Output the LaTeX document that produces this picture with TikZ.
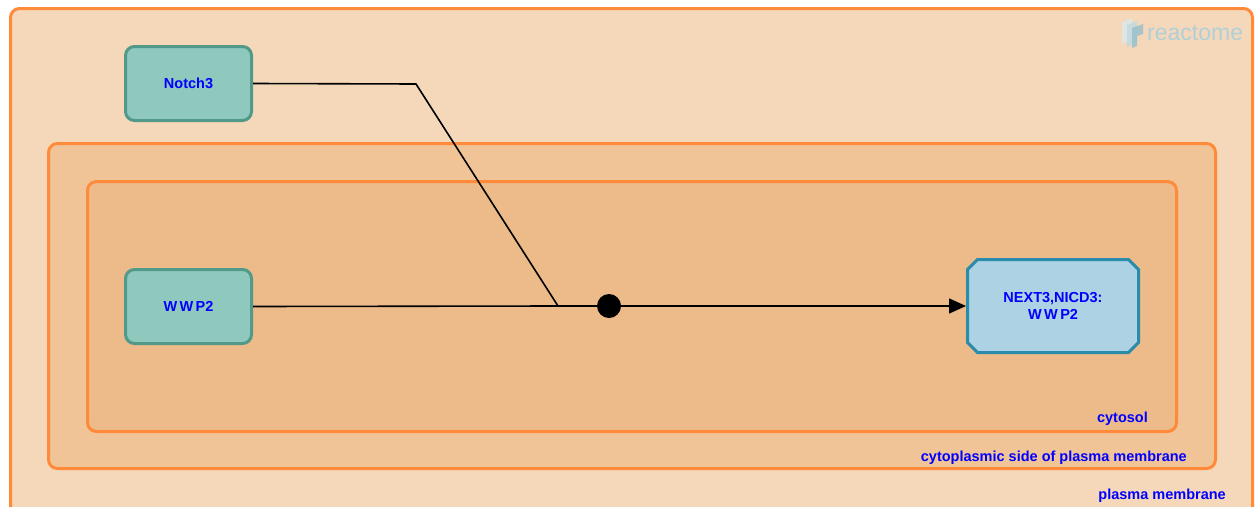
\documentclass[tikz,border=0pt]{standalone}
\usepackage{fontspec}
\setmainfont{Liberation Sans}
\usetikzlibrary{arrows.meta,shapes.misc}
\definecolor{pmfill}{RGB}{245,215,185}		% compartment colours
\definecolor{cspfill}{RGB}{240,196,150}
\definecolor{cytfill}{RGB}{237,187,138}
\definecolor{compline}{RGB}{255,138,58}
\definecolor{protfill}{RGB}{143,200,189}	% entity colours
\definecolor{protline}{RGB}{81,154,138}
\definecolor{cplxfill}{RGB}{173,210,228}
\definecolor{cplxline}{RGB}{42,139,170}
\definecolor{labelblue}{RGB}{0,0,255}
\definecolor{logoblue}{RGB}{150,192,204}
\tikzset{
	compartment/.style={		% nested compartments
		draw=compline,
		line width=3pt,
		rounded corners=9pt
	},
	complabel/.style={
		text=labelblue,
		anchor=base east,
		inner sep=0pt,
		font=\fontsize{14.5}{16}\selectfont\bfseries
	},
	protein/.style={			% single entities
		draw=protline, fill=protfill,
		line width=3pt,
		rounded corners=9pt,
		minimum width=126pt, minimum height=74pt,
		text=labelblue,
		font=\fontsize{14.5}{17}\selectfont\bfseries
	},
	complex/.style={
		chamfered rectangle,
		chamfered rectangle xsep=5pt, chamfered rectangle ysep=5pt,
		draw=cplxline, fill=cplxfill,
		line width=3pt,
		minimum width=171pt, minimum height=93pt,
		align=center,
		text=labelblue,
		font=\fontsize{14.5}{17}\selectfont\bfseries
	},
	reaction/.style={line width=1.6pt}
}
\begin{document}
\begin{tikzpicture}[x=1pt,y=-1pt]
	\useasboundingbox (0,0) rectangle (1257,506);
	\fill[white] (0,0) rectangle (1257,506);
	% compartments
	\draw[compartment,fill=pmfill] (10.5,8.5) rectangle (1252.5,522);
	\draw[compartment,fill=cspfill] (48.5,143.5) rectangle (1215.5,468.5);
	\draw[compartment,fill=cytfill] (87.5,181.5) rectangle (1176.5,431.5);
	\node[complabel] at (1148,422) {cytosol};
	\node[complabel] at (1187,461) {cytoplasmic side of plasma membrane};
	\node[complabel] at (1226,499) {plasma membrane};
	% logo
	\fill[logoblue!35,opacity=.8] (1122,22) -- (1132,18) -- (1132,40) -- (1122,44) -- cycle;
	\fill[logoblue!60,opacity=.8] (1127,25) -- (1137,21) -- (1137,43) -- (1127,47) -- cycle;
	\fill[logoblue,opacity=.8] (1132,28) -- (1143,24) -- (1143,34) -- (1137,36) -- (1137,46) -- (1132,48) -- cycle;
	\node[text=logoblue!75,anchor=base west,inner sep=0pt,font=\fontsize{23}{25}\selectfont] at (1147,40) {reactome};
	% entities
	\node[protein] (notch) at (188.5,83.5) {Notch3};
	\node[protein] (wwp) at (188.5,306.5) {W\,W\,P2};
	\node[complex] (cplx) at (1053,306) {NEXT3,NICD3:\\W\,W\,P2};
	\node[circle,fill=black,minimum size=24pt,inner sep=0pt] (rxn) at (609,306) {};
	\coordinate (bend) at (416,84);
	\coordinate (join) at (558,306);
	% reaction
	\draw[reaction] (notch.east) -- (bend) -- (join);
	\draw[reaction] (wwp.east) -- (join) -- (rxn);
	\draw[reaction,-{Triangle[length=17pt,width=15pt]}] (rxn) -- (cplx.west);
\end{tikzpicture}
\end{document}
